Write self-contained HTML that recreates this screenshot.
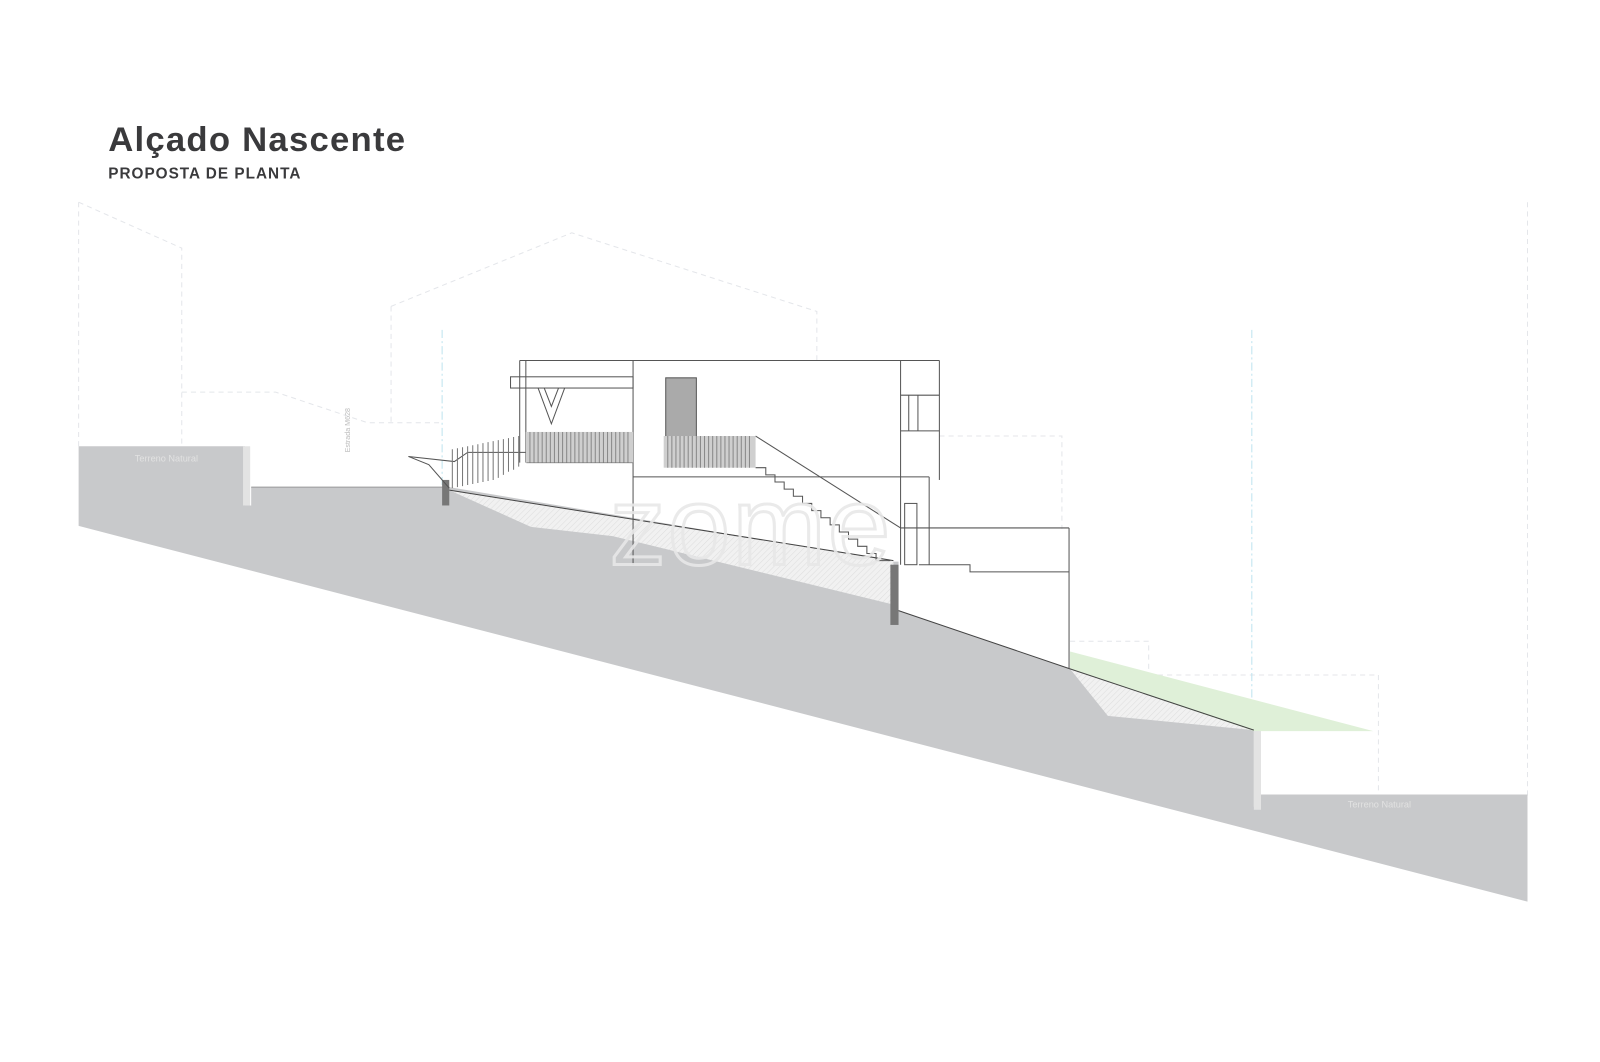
<!DOCTYPE html>
<html><head><meta charset="utf-8"><style>
html,body{margin:0;padding:0;background:#fff;}
svg{display:block;}
</style></head><body>
<svg width="1600" height="1062" viewBox="0 0 1567 1040" preserveAspectRatio="none" xmlns="http://www.w3.org/2000/svg">
<defs>
<pattern id="h" width="4" height="4" patternUnits="userSpaceOnUse" patternTransform="rotate(45)">
<rect width="4" height="4" fill="#f1f1f1"/><line x1="0" y1="0" x2="0" y2="4" stroke="#ddd" stroke-width="1"/>
</pattern>
</defs>
<rect width="1567" height="1040" fill="#fff"/>
<g fill="none" stroke="#e4e6ea" stroke-width="1" stroke-dasharray="5,4">
<path d="M77,198 L178,243 L178,437"/>
<path d="M77,198 L77,437"/>
<path d="M178,384 L270,384 L360,414 L430,414"/>
<path d="M383,300 L560,228 L800,305 L800,353"/>
<path d="M383,300 L383,414"/>
<path d="M920,427 L1040,427 L1040,518"/>
<path d="M1048,628 L1125,628 L1125,660"/>
<path d="M1125,661 L1350,661 L1350,778"/>
<path d="M1496,198 L1496,780"/>
</g>
<g stroke="#bfe3ef" stroke-width="1" stroke-dasharray="8,3,2,3">
<line x1="433" y1="323" x2="433" y2="490"/>
<line x1="1226" y1="323" x2="1226" y2="790"/>
</g>
<path d="M77,437 L240,437 L240,495 L246,495 L246,477 L440,477 L875,550 L880,550 L880,598 L1048,655 L1228,715 L1228,790 L1234,790 L1234,778 L1496,778 L1496,883 L77,515 Z" fill="#c8c9cb"/>
<rect x="238" y="437" width="7" height="58" fill="#e3e3e3"/>
<rect x="1228" y="715" width="7" height="78" fill="#e3e3e3"/>
<path d="M440,480 L875,549 L875,592 L600,525 L520,516 Z" fill="url(#h)"/>
<path d="M1048,655 L1228,715 L1085,701 Z" fill="url(#h)"/>
<path d="M1048,638 L1345,716 L1228,716 L1048,655 Z" fill="#dff0d8"/>
<path d="M440,480 L875,549 M880,598 L1048,655 L1228,715" stroke="#444" stroke-width="1" fill="none"/>
<line x1="246" y1="477" x2="440" y2="477" stroke="#999" stroke-width="1"/>
<rect x="433" y="470" width="7" height="25" fill="#777"/>
<rect x="872" y="553" width="8" height="59" fill="#777"/>
<g fill="none" stroke="#555" stroke-width="1">
<line x1="509" y1="353" x2="920" y2="353"/>
<line x1="509" y1="353" x2="509" y2="453"/>
<line x1="515" y1="353" x2="515" y2="453"/>
<rect x="500" y="369" width="120" height="11"/>
<line x1="620" y1="353" x2="620" y2="553"/>
<line x1="882" y1="353" x2="882" y2="553"/>
<line x1="920" y1="353" x2="920" y2="470"/>
<line x1="882" y1="387" x2="920" y2="387"/>
<line x1="882" y1="422" x2="920" y2="422"/>
<line x1="890" y1="387" x2="890" y2="422"/>
<line x1="899" y1="387" x2="899" y2="422"/>
<line x1="620" y1="467" x2="910" y2="467"/>
<line x1="910" y1="467" x2="910" y2="553"/>
<rect x="886" y="493" width="12" height="60"/>
<rect x="652" y="370" width="30" height="58" fill="#aaa"/>
<path d="M527,380 L540,415 L553,380 M533,380 L540,398 L547,380"/>
<line x1="740" y1="427" x2="882" y2="517"/>
<line x1="882" y1="517" x2="1047" y2="517"/>
<line x1="1047" y1="517" x2="1047" y2="655"/>
<path d="M900,553 L950,553 L950,560 L1047,560"/>
<path d="M400,447 L445,452 L458,443 L516,443 L516,453 L620,453"/>
<path d="M400,447 L420,455 L440,478"/>
<path d="M740,458 H750 V465 H759 V472 H768 V479 H777 V486 H786 V493 H795 V500 H804 V507 H813 V514 H822 V521 H831 V528 H840 V535 H849 V542 H858 V549 H872"/>
</g>
<g stroke="#777" stroke-width="1">
<path d="M443,440 L443,478 M448,439 L448,477 M453,438 L453,476 M458,437 L458,475 M463,436 L463,474 M468,435 L468,473 M473,434 L473,472 M478,433 L478,471 M483,432 L483,470 M488,431 L488,468 M493,430 L493,465 M498,429 L498,462 M503,428 L503,460 M508,427 L508,457"/>
</g>
<rect x="515" y="423" width="105" height="30" fill="#cfcfcf"/>
<g stroke="#888" stroke-width="1">
<path d="M519,423v30M523,423v30M527,423v30M531,423v30M535,423v30M539,423v30M543,423v30M547,423v30M551,423v30M555,423v30M559,423v30M563,423v30M567,423v30M571,423v30M575,423v30M579,423v30M583,423v30M587,423v30M591,423v30M595,423v30M599,423v30M603,423v30M607,423v30M611,423v30M615,423v30"/>
</g>
<rect x="650" y="427" width="90" height="31" fill="#cfcfcf"/>
<g stroke="#888" stroke-width="1">
<path d="M654,427v31M658,427v31M662,427v31M666,427v31M670,427v31M674,427v31M678,427v31M682,427v31M686,427v31M690,427v31M694,427v31M698,427v31M702,427v31M706,427v31M710,427v31M714,427v31M718,427v31M722,427v31M726,427v31M730,427v31M734,427v31"/>
</g>
<text x="132" y="452" font-family="Liberation Sans, sans-serif" font-size="9" fill="#e2e2e2">Terreno Natural</text>
<text x="1320" y="791" font-family="Liberation Sans, sans-serif" font-size="9" fill="#e2e2e2">Terreno Natural</text>
<text transform="translate(343,443) rotate(-90)" font-family="Liberation Sans, sans-serif" font-size="7" fill="#bbb">Estrada M628</text>
<text x="597" y="553" font-family="Liberation Sans, sans-serif" font-size="110" fill="none" stroke="#e8e8e8" stroke-width="3" opacity="0.9" letter-spacing="2">zome</text>
<text x="106" y="148" font-family="Liberation Sans, sans-serif" font-weight="bold" font-size="34" fill="#3a3a3c" letter-spacing="1.2">Alçado Nascente</text>
<text x="106" y="175" font-family="Liberation Sans, sans-serif" font-weight="bold" font-size="15" fill="#3a3a3c" letter-spacing="1">PROPOSTA DE PLANTA</text>
</svg>
</body></html>
